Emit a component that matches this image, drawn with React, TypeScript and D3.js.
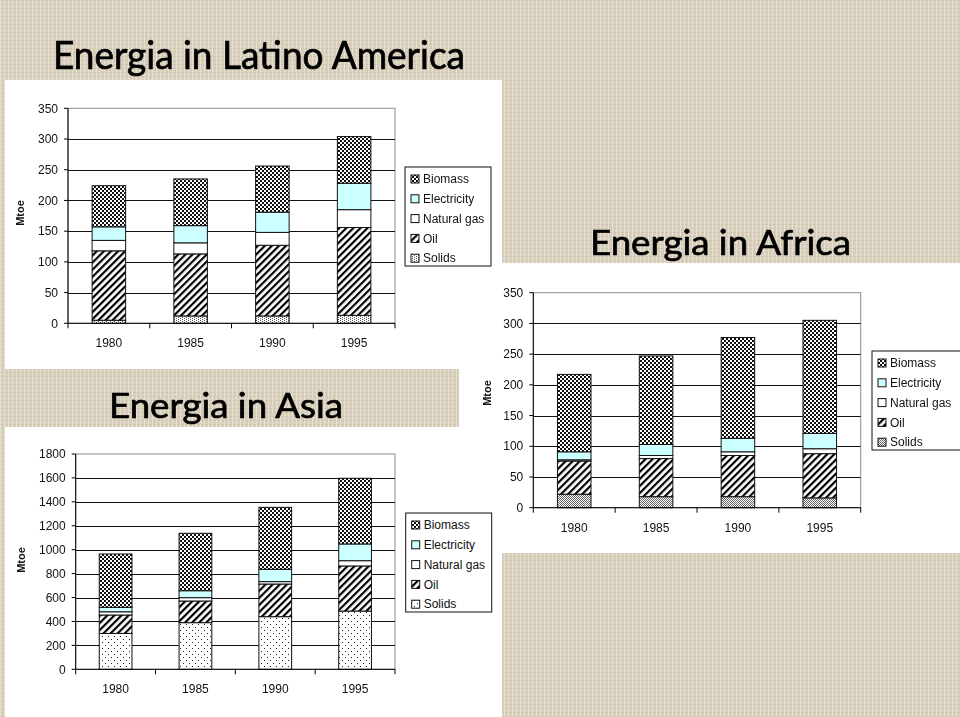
import React from "react";
import * as d3 from "d3";

// categories and series
const years = ["1980", "1985", "1990", "1995"];
const sources = ["Solids", "Oil", "Natural gas", "Electricity", "Biomass"];
const legendOrder = ["Biomass", "Electricity", "Natural gas", "Oil", "Solids"];

// Latino America (Mtoe)
const latinSolids = [5, 12, 12, 13];
const latinOil = [113, 101, 115, 143];
const latinGas = [17, 18, 21, 29];
const latinElectricity = [22, 28, 33, 43];
const latinBiomass = [67, 76, 75, 76];

// Africa (Mtoe)
const africaSolids = [22, 18, 18, 16];
const africaOil = [54, 62, 67, 72];
const africaGas = [2, 5, 6, 8];
const africaElectricity = [13, 18, 22, 25];
const africaBiomass = [126, 144, 164, 184];

// Asia (Mtoe)
const asiaSolids = [300, 390, 440, 487];
const asiaOil = [154, 181, 273, 377];
const asiaGas = [27, 28, 20, 44];
const asiaElectricity = [37, 58, 103, 140];
const asiaBiomass = [446, 480, 518, 549];

const latinTicks = d3.range(0, 351, 50);
const africaTicks = d3.range(0, 351, 50);
const asiaTicks = d3.range(0, 1801, 200);

const FONT = "'Liberation Sans', Arial, sans-serif";
const TITLE_FONT = "Lato, 'Open Sans', sans-serif";

type Props = {
  solids: number[];
  oil: number[];
  gas: number[];
  electricity: number[];
  biomass: number[];
  ticks: number[];
  x0: number;
  x1: number;
  yBase: number;
  yTop: number;
  legendX: number;
  legendY: number;
  legendW: number;
  mtoeX: number;
  mtoeY: number;
  solidsFill: string;
};

function StackedChart(p: Props) {
  const rows = years.map((year, i) => ({
    year,
    Solids: p.solids[i],
    Oil: p.oil[i],
    "Natural gas": p.gas[i],
    Electricity: p.electricity[i],
    Biomass: p.biomass[i],
  }));
  const stacked = d3.stack<any>().keys(sources)(rows);

  const x = d3
    .scaleBand()
    .domain(years)
    .range([p.x0, p.x1])
    .paddingInner(0.59)
    .paddingOuter(0.295);
  const top = p.ticks[p.ticks.length - 1];
  const y = d3.scaleLinear().domain([0, top]).range([p.yBase, p.yTop]);

  const fills: Record<string, string> = {
    Biomass: "url(#biomass)",
    Electricity: "#ccffff",
    "Natural gas": "#ffffff",
    Oil: "url(#oil)",
    Solids: p.solidsFill,
  };

  const step = x.step();
  const boundaries = d3.range(years.length + 1).map((i) => p.x0 + i * step);

  return (
    <g>
      {/* plot border */}
      <rect
        x={p.x0}
        y={y(top)}
        width={p.x1 - p.x0}
        height={p.yBase - y(top)}
        fill="white"
        stroke="#8c8c8c"
      />
      {/* gridlines */}
      {p.ticks.slice(1, -1).map((t) => (
        <line
          key={t}
          x1={p.x0}
          x2={p.x1}
          y1={Math.round(y(t)) + 0.5}
          y2={Math.round(y(t)) + 0.5}
          stroke="#111"
        />
      ))}
      {/* bars */}
      {stacked.map((layer) =>
        layer.map((d, i) => (
          <rect
            key={layer.key + i}
            x={x(years[i])}
            y={y(d[1])}
            width={x.bandwidth()}
            height={y(d[0]) - y(d[1])}
            fill={fills[layer.key]}
            stroke="#111"
            strokeWidth={1}
          />
        ))
      )}
      {/* y axis */}
      <line x1={p.x0} x2={p.x0} y1={y(top)} y2={p.yBase} stroke="#000" />
      {p.ticks.map((t) => (
        <g key={"yt" + t}>
          <line x1={p.x0 - 4} x2={p.x0} y1={y(t)} y2={y(t)} stroke="#000" />
          <text
            x={p.x0 - 10}
            y={y(t)}
            dy="0.35em"
            textAnchor="end"
            fontFamily={FONT}
            fontSize={12}
            fill="#111"
          >
            {t}
          </text>
        </g>
      ))}
      {/* x axis */}
      <line x1={p.x0} x2={p.x1} y1={p.yBase} y2={p.yBase} stroke="#000" />
      {boundaries.map((bx, i) => (
        <line key={"xt" + i} x1={bx} x2={bx} y1={p.yBase} y2={p.yBase + 5} stroke="#000" />
      ))}
      {years.map((yr) => (
        <text
          key={yr}
          x={(x(yr) as number) + x.bandwidth() / 2}
          y={p.yBase + 24}
          textAnchor="middle"
          fontFamily={FONT}
          fontSize={12}
          fill="#111"
        >
          {yr}
        </text>
      ))}
      {/* axis title */}
      <text
        transform={`translate(${p.mtoeX},${p.mtoeY}) rotate(-90)`}
        textAnchor="middle"
        fontFamily={FONT}
        fontSize={11}
        fontWeight="bold"
        fill="#111"
      >
        Mtoe
      </text>
      {/* legend */}
      <rect x={p.legendX} y={p.legendY} width={p.legendW} height={99} fill="white" stroke="#111" />
      {legendOrder.map((k, i) => {
        const cy = p.legendY + 12 + i * 19.8;
        return (
          <g key={"lg" + k}>
            <rect x={p.legendX + 6} y={cy - 4} width={8} height={8} fill={fills[k]} stroke="#111" />
            <text
              x={p.legendX + 18}
              y={cy}
              dy="0.35em"
              fontFamily={FONT}
              fontSize={12}
              fill="#111"
            >
              {k}
            </text>
          </g>
        );
      })}
    </g>
  );
}

export default function App() {
  return (
    <div style={{ position: "fixed", left: 0, top: 0 }}>
      <svg width={960} height={717} style={{ display: "block" }}>
        <defs>
          <pattern id="burlap" width={4} height={4} patternUnits="userSpaceOnUse">
            <rect width={4} height={4} fill="#dad1bf" />
            <rect width={4} height={1} fill="#cec4af" />
            <rect width={1} height={4} fill="#e6dfd1" />
            <rect x={2} y={2} width={1} height={1} fill="#d2c8b3" />
          </pattern>
          <pattern id="biomass" width={4} height={4} patternUnits="userSpaceOnUse">
            <rect width={4} height={4} fill="#fff" />
            <rect width={2} height={2} fill="#111" />
            <rect x={2} y={2} width={2} height={2} fill="#111" />
          </pattern>
          <pattern
            id="oil"
            width={5}
            height={5}
            patternUnits="userSpaceOnUse"
            patternTransform="rotate(45)"
          >
            <rect width={5} height={5} fill="#fff" />
            <rect width={2.2} height={5} fill="#000" />
          </pattern>
          <pattern id="solidsLatin" width={4} height={2} patternUnits="userSpaceOnUse">
            <rect width={4} height={2} fill="#fff" />
            <rect width={1} height={1} fill="#555" />
            <rect x={2} y={1} width={1} height={1} fill="#555" />
          </pattern>
          <pattern id="solidsAfrica" width={2} height={2} patternUnits="userSpaceOnUse">
            <rect width={2} height={2} fill="#fff" />
            <rect width={1} height={1} fill="#666" />
            <rect x={1} y={1} width={1} height={1} fill="#666" />
          </pattern>
          <pattern id="solidsAsia" width={6} height={6} patternUnits="userSpaceOnUse">
            <rect width={6} height={6} fill="#fff" />
            <rect width={1} height={1} fill="#222" />
            <rect x={3} y={3} width={1} height={1} fill="#222" />
          </pattern>
        </defs>

        {/* backdrop */}
        <rect width={960} height={717} fill="url(#burlap)" />
        <rect x={5} y={80} width={497} height={637} fill="#fff" />
        <rect x={502} y={263} width={458} height={290} fill="#fff" />
        <rect x={5} y={369} width={454} height={58} fill="url(#burlap)" />

        {/* titles */}
        <g fontFamily={TITLE_FONT} fill="#000" stroke="#000" strokeWidth={0.7}>
          <text x={53} y={69} fontSize={38} textLength={412} lengthAdjust="spacingAndGlyphs">
            Energia in Latino America
          </text>
          <text x={590} y={255} fontSize={35} textLength={261} lengthAdjust="spacingAndGlyphs">
            Energia in Africa
          </text>
          <text x={109} y={418} fontSize={35} textLength={234} lengthAdjust="spacingAndGlyphs">
            Energia in Asia
          </text>
        </g>

        <StackedChart
          solids={latinSolids}
          oil={latinOil}
          gas={latinGas}
          electricity={latinElectricity}
          biomass={latinBiomass}
          ticks={latinTicks}
          x0={68}
          x1={395}
          yBase={323.3}
          yTop={108.3}
          legendX={405}
          legendY={167}
          legendW={86}
          mtoeX={24}
          mtoeY={213}
          solidsFill="url(#solidsLatin)"
        />
        <StackedChart
          solids={africaSolids}
          oil={africaOil}
          gas={africaGas}
          electricity={africaElectricity}
          biomass={africaBiomass}
          ticks={africaTicks}
          x0={533.3}
          x1={860.7}
          yBase={507.7}
          yTop={292.7}
          legendX={872}
          legendY={351}
          legendW={92}
          mtoeX={491}
          mtoeY={393}
          solidsFill="url(#solidsAfrica)"
        />
        <StackedChart
          solids={asiaSolids}
          oil={asiaOil}
          gas={asiaGas}
          electricity={asiaElectricity}
          biomass={asiaBiomass}
          ticks={asiaTicks}
          x0={75.7}
          x1={395}
          yBase={669.3}
          yTop={454}
          legendX={405.7}
          legendY={513}
          legendW={86}
          mtoeX={25}
          mtoeY={560}
          solidsFill="url(#solidsAsia)"
        />
      </svg>
    </div>
  );
}
